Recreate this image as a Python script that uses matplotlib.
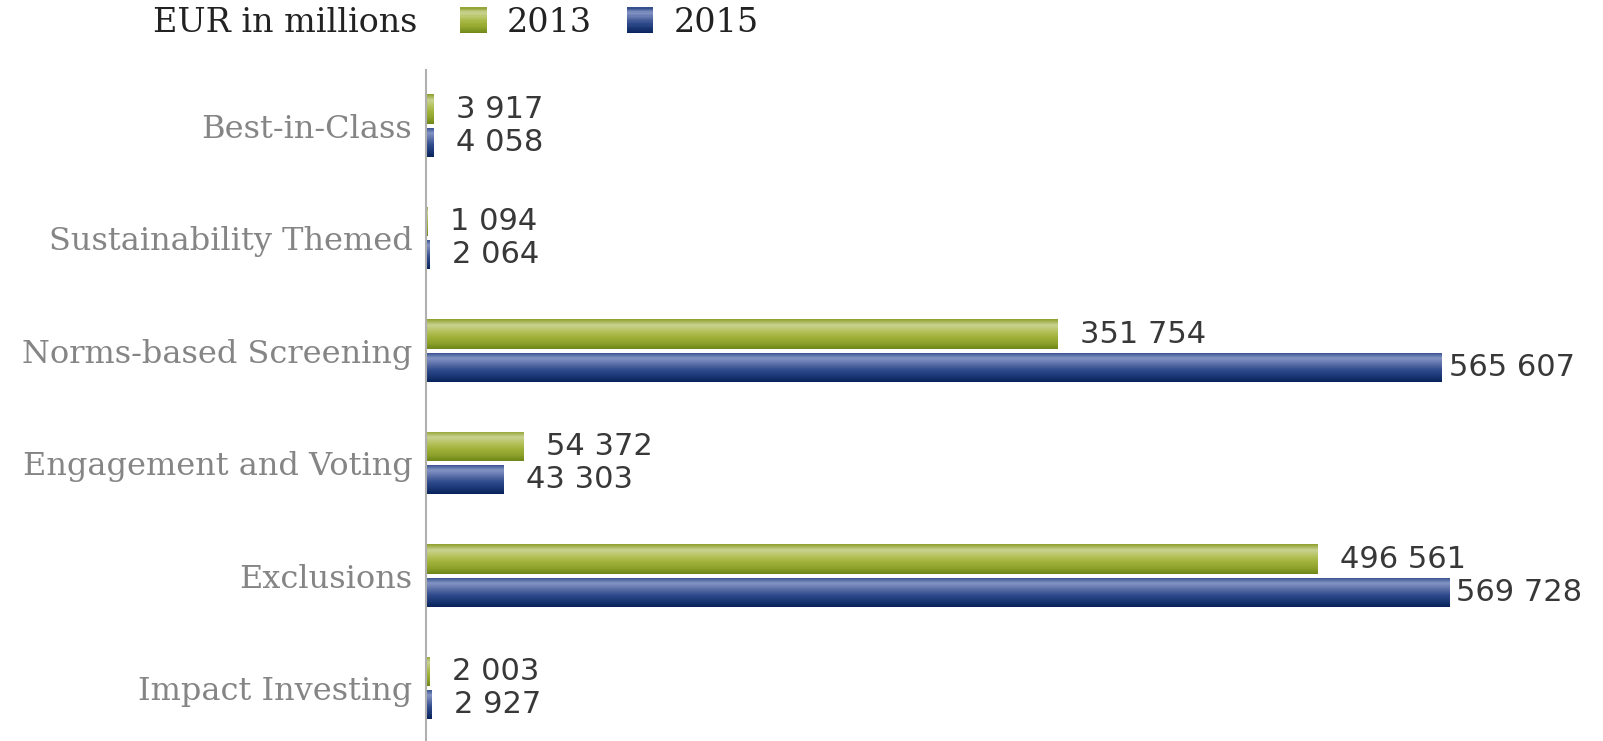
import numpy as np
import matplotlib
matplotlib.use("Agg")
import matplotlib.pyplot as plt
from matplotlib.patches import Rectangle
from matplotlib.legend_handler import HandlerBase
from matplotlib.colors import LinearSegmentedColormap

categories = ["Best-in-Class", "Sustainability Themed", "Norms-based Screening",
              "Engagement and Voting", "Exclusions", "Impact Investing"]
series_names = ["2013", "2015"]
values_2013 = [3917, 1094, 351754, 54372, 496561, 2003]
values_2015 = [4058, 2064, 565607, 43303, 569728, 2927]
value_labels_2013 = ["3 917", "1 094", "351 754", "54 372", "496 561", "2 003"]
value_labels_2015 = ["4 058", "2 064", "565 607", "43 303", "569 728", "2 927"]
legend_title = "EUR in millions"

# gradient styles (top -> bottom)
green_grad = ["#8e9f2c", "#c9d392", "#b5c35e", "#a1b23a", "#8ea22b", "#6e8618"]
blue_grad = ["#2c4785", "#8494c4", "#5b6fa8", "#304b8c", "#1b3775", "#08225a"]
green_cmap = LinearSegmentedColormap.from_list("g", green_grad)
blue_cmap = LinearSegmentedColormap.from_list("b", blue_grad)

W, H = 1603, 741
fig = plt.figure(figsize=(W / 100, H / 100), dpi=100)
ax_left = 426.3 / W
ax_top = 69.5 / H
ax = fig.add_axes([ax_left, 0.0, 1 - ax_left, 1 - ax_top])

xmax = (W - 426.3) / (1023.4 / 569728)

y = np.arange(len(categories))
off = 0.148
bh = 0.26

grad = np.linspace(0, 1, 256).reshape(-1, 1)

def gradient_bars(bars, cmap):
    for b in bars:
        x0, y0 = b.get_x(), b.get_y()
        w, h = b.get_width(), b.get_height()
        b.set_facecolor("none")
        b.set_edgecolor("none")
        im = ax.imshow(grad, cmap=cmap, aspect="auto",
                       extent=(x0, x0 + w, y0 + h, y0), origin="upper",
                       zorder=2, interpolation="bilinear")
        im.set_clip_path(b)

bars13 = ax.barh(y - off, values_2013, height=bh, zorder=2)
bars15 = ax.barh(y + off, values_2015, height=bh, zorder=2)
gradient_bars(bars13, green_cmap)
gradient_bars(bars15, blue_cmap)
ax.set_xlim(0, xmax)
ax.set_ylim(5.47, -0.5)

# value labels
fig.canvas.draw()
renderer = fig.canvas.get_renderer()
for vals, labs, dy in [(values_2013, value_labels_2013, -off), (values_2015, value_labels_2015, off)]:
    for yi, v, lab in zip(y, vals, labs):
        t = ax.annotate(lab, xy=(v, yi + dy), xytext=(16, 0), textcoords="offset points",
                        va="center", ha="left", fontsize=22, color="#383838",
                        family="DejaVu Sans")
        bb = t.get_window_extent(renderer)
        if bb.x1 > W - 40:
            t.set_position((4.5, 0))

ax.set_yticks(y)
ax.set_yticklabels(categories, family="DejaVu Serif", fontsize=23, color="#858585")
ax.tick_params(axis="y", length=0, pad=10)
ax.set_xticks([])
for s in ["top", "right", "bottom"]:
    ax.spines[s].set_visible(False)
ax.spines["left"].set_color("#b0b0b0")
ax.spines["left"].set_linewidth(1.5)
ax.set_facecolor("none")

# legend
class GradHandler(HandlerBase):
    def __init__(self, cmap):
        super().__init__()
        self.cmap = cmap
    def create_artists(self, legend, orig_handle, xdescent, ydescent, width, height, fontsize, trans):
        n = 20
        arts = []
        for i in range(n):
            c = self.cmap(1 - (i + 0.5) / n)
            r = Rectangle((-xdescent, -ydescent + height * i / n), width, height / n + 0.3,
                          facecolor=c, edgecolor="none", transform=trans)
            arts.append(r)
        return arts

h13 = Rectangle((0, 0), 1, 1, facecolor=green_grad[3])
h15 = Rectangle((0, 0), 1, 1, facecolor=blue_grad[3])
leg = fig.legend([h13, h15], series_names, loc="center left",
                 bbox_to_anchor=(460 / W, 1 - 23 / H), ncol=2, frameon=False,
                 handler_map={h13: GradHandler(green_cmap), h15: GradHandler(blue_cmap)},
                 prop={"family": "DejaVu Serif", "size": 24},
                 handlelength=0.8, handleheight=0.8, handletextpad=0.6,
                 columnspacing=1.05, borderpad=0, borderaxespad=0)
for t in leg.get_texts():
    t.set_color("#222222")
fig.text(417 / W, 1 - 23 / H, legend_title, ha="right", va="center",
         family="DejaVu Serif", fontsize=24, color="#222222")

fig.savefig("out.png", dpi=100)
